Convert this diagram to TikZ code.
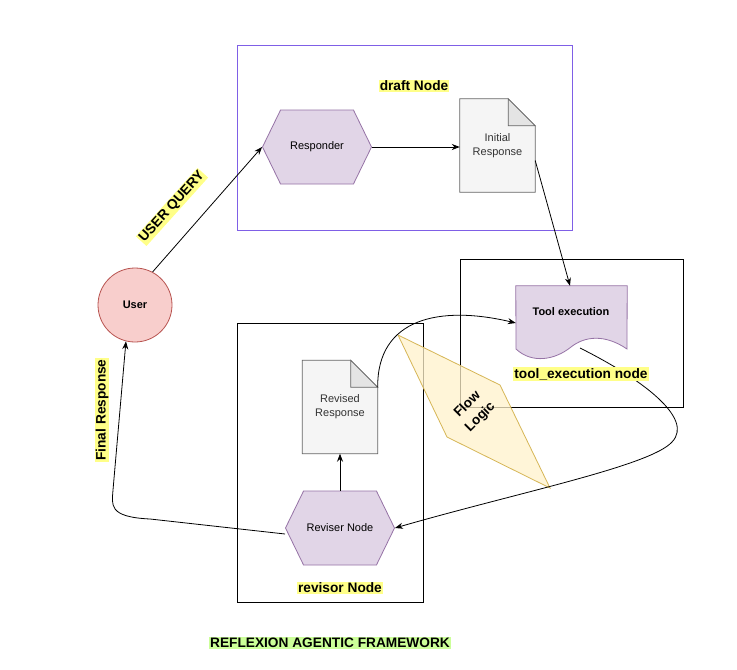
\documentclass[tikz,border=0pt]{standalone}
\usepackage{fontspec}
\setmainfont{Liberation Sans}
\usetikzlibrary{shapes.symbols,calc,arrows.meta}

\definecolor{draftline}{RGB}{127,95,230}
\definecolor{hexfill}{HTML}{E1D5E7}
\definecolor{hexline}{HTML}{9673A6}
\definecolor{docfill}{HTML}{F5F5F5}
\definecolor{docfold}{HTML}{E4E4E4}
\definecolor{docline}{HTML}{666666}
\definecolor{doctext}{HTML}{333333}
\definecolor{userfill}{HTML}{F8CECC}
\definecolor{userline}{HTML}{B85450}
\definecolor{flowfill}{HTML}{FFF2CC}
\definecolor{flowline}{HTML}{D6B656}
\definecolor{hlyellow}{HTML}{FFFF88}
\definecolor{hlgreen}{HTML}{CCFF99}

\tikzset{
  group/.style={draw=black, line width=0.8pt},
  hexa/.style={signal, signal to=west and east, signal pointer angle=128,
    draw=hexline, fill=hexfill, line width=0.8pt, minimum width=109pt,
    minimum height=74pt, inner sep=0pt, font=\fontsize{11}{13}\selectfont},
  docbox/.style={minimum width=75pt, minimum height=93pt, inner sep=0pt,
    align=center, text=doctext, font=\fontsize{11}{14}\selectfont},
  tag/.style={fill=hlyellow, inner sep=1pt, font=\fontsize{13.7}{16}\selectfont\bfseries},
  link/.style={draw=black, line width=0.8pt, -{Stealth[length=8pt,width=6pt]}},
}

\begin{document}
\begin{tikzpicture}[x=1pt,y=-1pt]
\useasboundingbox (0,0) rectangle (737,670);
\fill[white] (0,0) rectangle (737,670);

% group frames
\draw[draftline, line width=0.9pt] (237,45) rectangle (572,230);
\draw[group] (460,259) rectangle (683,407);
\draw[group] (237,323) rectangle (423,602);

% responder and initial response
\node[hexa] (resp) at (317,147) {Responder};
\node[docbox] (init) at (497.5,145.5) {};
\fill[docfill, draw=docline, line width=0.8pt]
  (init.north west) -- ($(init.north east)+(-27,0)$) -- ($(init.north east)+(0,27)$)
  -- (init.south east) -- (init.south west) -- cycle;
\fill[docfold, draw=docline, line width=0.8pt]
  ($(init.north east)+(-27,0)$) -- ($(init.north east)+(-27,27)$) -- ($(init.north east)+(0,27)$) -- cycle;
\node[docbox, minimum width=0pt, minimum height=0pt] at (init) {Initial\\Response};

% tool execution (document with wavy foot)
\node[minimum width=111pt, minimum height=74pt, inner sep=0pt] (tool) at (571.5,323) {};
\fill[hexfill, draw=hexline, line width=0.8pt]
  (tool.north west) -- (tool.north east) -- (627,349)
  .. controls (605,334) and (585,336) .. (571,347)
  .. controls (555,360) and (532,364) .. (516,349) -- cycle;
\node[font=\fontsize{11}{13}\selectfont\bfseries] at (571,312) {Tool execution};

% revised response and reviser
\node[docbox] (revd) at (340,407) {};
\fill[docfill, draw=docline, line width=0.8pt]
  (revd.north west) -- ($(revd.north east)+(-27,0)$) -- ($(revd.north east)+(0,27)$)
  -- (revd.south east) -- (revd.south west) -- cycle;
\fill[docfold, draw=docline, line width=0.8pt]
  ($(revd.north east)+(-27,0)$) -- ($(revd.north east)+(-27,27)$) -- ($(revd.north east)+(0,27)$) -- cycle;
\node[docbox, minimum width=0pt, minimum height=0pt] at (revd) {Revised\\Response};
\coordinate (revdfold) at ($(revd.north east)+(0,27)$);

\node[hexa] (rev) at (340,528) {Reviser Node};

% user
\node[circle, draw=userline, fill=userfill, line width=0.8pt, minimum size=74pt,
  inner sep=0pt, font=\fontsize{11}{13}\selectfont\bfseries] (user) at (135,305) {User};

% flow logic rhombus
\fill[flowfill, draw=flowline, line width=0.8pt, fill opacity=0.75]
  (398,335) -- (500,385) -- (550,488) -- (447,437) -- cycle;
\node[rotate=45, align=center, font=\fontsize{13.5}{18}\selectfont\bfseries] (flow) at (474,411) {Flow\\Logic};

% connectors
\draw[link] (user.62) -- (resp.west);
\draw[link] (resp.east) -- (init.west |- resp.east);
\draw[link] ($(init.east)+(0,15)$) -- (tool.north -| 570,0);
\coordinate (toolfoot) at (580,348);
\draw[link] (revdfold) .. controls (377,318) and (440,305) .. (tool.west);
\draw[link] (toolfoot) .. controls (640,378) and (695,418) .. (672,442)
  .. controls (650,466) and (520,492) .. (rev.east);
\draw[link] (rev.north) -- (revd.south);
\coordinate (revleft) at (285,534);
\draw[link] (revleft) -- (150,519) .. controls (108,517) and (112,505) .. (113,490)
  -- (user.-104);

% captions and edge labels, laid over the lines
\node[tag] (draftlbl) at (414,86) {draft Node};
\node[tag] (toollbl) at (581,374) {tool\_execution node};
\node[tag] (revlbl) at (340,588) {revisor Node};
\node[tag, rotate=48] (querylbl) at (172,207) {USER QUERY};
\node[tag, rotate=90] (finallbl) at (102,410) {Final Response};

% title
\node[tag, fill=hlgreen] (title) at (330,643) {REFLEXION AGENTIC FRAMEWORK};
\end{tikzpicture}
\end{document}
